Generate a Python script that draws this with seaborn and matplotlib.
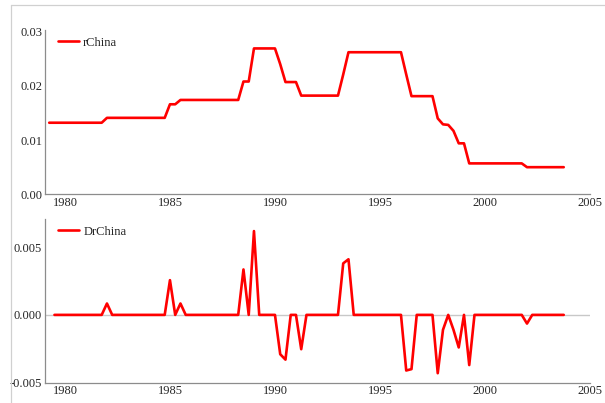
import numpy as np
import pandas as pd
import matplotlib
matplotlib.use("Agg")
import matplotlib.pyplot as plt
from matplotlib.lines import Line2D
from matplotlib.ticker import MultipleLocator, FormatStrFormatter
import seaborn as sns

# quarterly values
r_start = 1979.25
rChina = [0.0132, 0.0132, 0.0132,
          0.0132, 0.0132, 0.0132, 0.0132,
          0.0132, 0.0132, 0.0132, 0.0132,
          0.0141, 0.0141, 0.0141, 0.0141,
          0.0141, 0.0141, 0.0141, 0.0141,
          0.0141, 0.0141, 0.0141, 0.0141,
          0.0166, 0.0166, 0.0174, 0.0174,
          0.0174, 0.0174, 0.0174, 0.0174,
          0.0174, 0.0174, 0.0174, 0.0174,
          0.0174, 0.0174, 0.0208, 0.0208,
          0.0269, 0.0269, 0.0269, 0.0269,
          0.0269, 0.0240, 0.0207, 0.0207,
          0.0207, 0.0182, 0.0182, 0.0182,
          0.0182, 0.0182, 0.0182, 0.0182,
          0.0182, 0.0221, 0.0262, 0.0262,
          0.0262, 0.0262, 0.0262, 0.0262,
          0.0262, 0.0262, 0.0262, 0.0262,
          0.0262, 0.0221, 0.0181, 0.0181,
          0.0181, 0.0181, 0.0181, 0.0140,
          0.0129, 0.0128, 0.0117, 0.0094,
          0.0094, 0.0057, 0.0057, 0.0057,
          0.0057, 0.0057, 0.0057, 0.0057,
          0.0057, 0.0057, 0.0057, 0.0057,
          0.0050, 0.0050, 0.0050, 0.0050,
          0.0050, 0.0050, 0.0050, 0.0050]

d_start = 1979.5
DrChina = [0, 0,
           0, 0, 0, 0,
           0, 0, 0, 0,
           0.00084, 0, 0, 0,
           0, 0, 0, 0,
           0, 0, 0, 0,
           0.00256, 0, 0.00084, 0,
           0, 0, 0, 0,
           0, 0, 0, 0,
           0, 0, 0.00335, 0,
           0.00618, 0, 0, 0,
           0, -0.0029, -0.0033, 0,
           0, -0.00253, 0, 0,
           0, 0, 0, 0,
           0, 0.0038, 0.0041, 0,
           0, 0, 0, 0,
           0, 0, 0, 0,
           0, -0.0041, -0.0040, 0,
           0, 0, 0, -0.0043,
           -0.0011, 0, -0.0011, -0.0024,
           0, -0.0037, 0, 0,
           0, 0, 0, 0,
           0, 0, 0, 0,
           -0.00064, 0, 0, 0,
           0, 0, 0, 0]

df_r = pd.DataFrame({"t": r_start + 0.25 * np.arange(len(rChina)), "v": rChina})
df_d = pd.DataFrame({"t": d_start + 0.25 * np.arange(len(DrChina)), "v": DrChina})

sns.set_style("white")
plt.rcParams["font.family"] = ["Liberation Serif", "DejaVu Serif"]

fig = plt.figure(figsize=(6.05, 4.03), dpi=100)
ax1 = fig.add_axes([45/605, 1-194.3/403, 545/605, (194.3-30)/403])
ax2 = fig.add_axes([45/605, 1-382.7/403, 545/605, (382.7-219)/403])

axis_grey = "#8c8c8c"

def style(ax):
    for s in ["top", "right"]:
        ax.spines[s].set_visible(False)
    for s in ["left", "bottom"]:
        ax.spines[s].set_color(axis_grey)
        ax.spines[s].set_linewidth(0.9)
    ax.set_xlim(1979.05, 2005)
    ax.xaxis.set_major_locator(MultipleLocator(5))
    ax.xaxis.set_minor_locator(MultipleLocator(1))
    ax.tick_params(which="both", direction="in", labelsize=9, pad=2)
    ax.tick_params(which="major", length=4, width=0.8, color="#333333")
    ax.tick_params(which="minor", length=2.5, width=0.6, color="#999999")
    ax.set_xlabel("")
    ax.set_ylabel("")

# top panel - the rate
sns.lineplot(data=df_r, x="t", y="v", ax=ax1, color="red", linewidth=1.9, label="rChina")
style(ax1)
ax1.set_ylim(0, 0.0303)
ax1.yaxis.set_major_locator(MultipleLocator(0.01))
ax1.yaxis.set_minor_locator(MultipleLocator(0.002))
ax1.yaxis.set_major_formatter(FormatStrFormatter("%.2f"))

# bottom panel - quarterly change
ax2.axhline(0, color="#c8c8c8", linewidth=1.0, zorder=0)
sns.lineplot(data=df_d, x="t", y="v", ax=ax2, color="red", linewidth=1.9, label="DrChina")
style(ax2)
ax2.set_ylim(-0.005, 0.00707)
ax2.yaxis.set_major_locator(MultipleLocator(0.005))
ax2.yaxis.set_minor_locator(MultipleLocator(0.001))
ax2.yaxis.set_major_formatter(FormatStrFormatter("%.3f"))

for ax in (ax1, ax2):
    ax.legend(loc="upper left", bbox_to_anchor=(0.015, 0.99), frameon=False,
              fontsize=9, handlelength=1.7, handletextpad=0.3, borderaxespad=0)

# light frame around the graphic
fig.add_artist(Line2D([11/605, 11/605], [0, 1-5/403], color="#d0d0d0", linewidth=0.9))
fig.add_artist(Line2D([11/605, 1], [1-5/403, 1-5/403], color="#d0d0d0", linewidth=0.9))

fig.savefig("out.png", dpi=100)
